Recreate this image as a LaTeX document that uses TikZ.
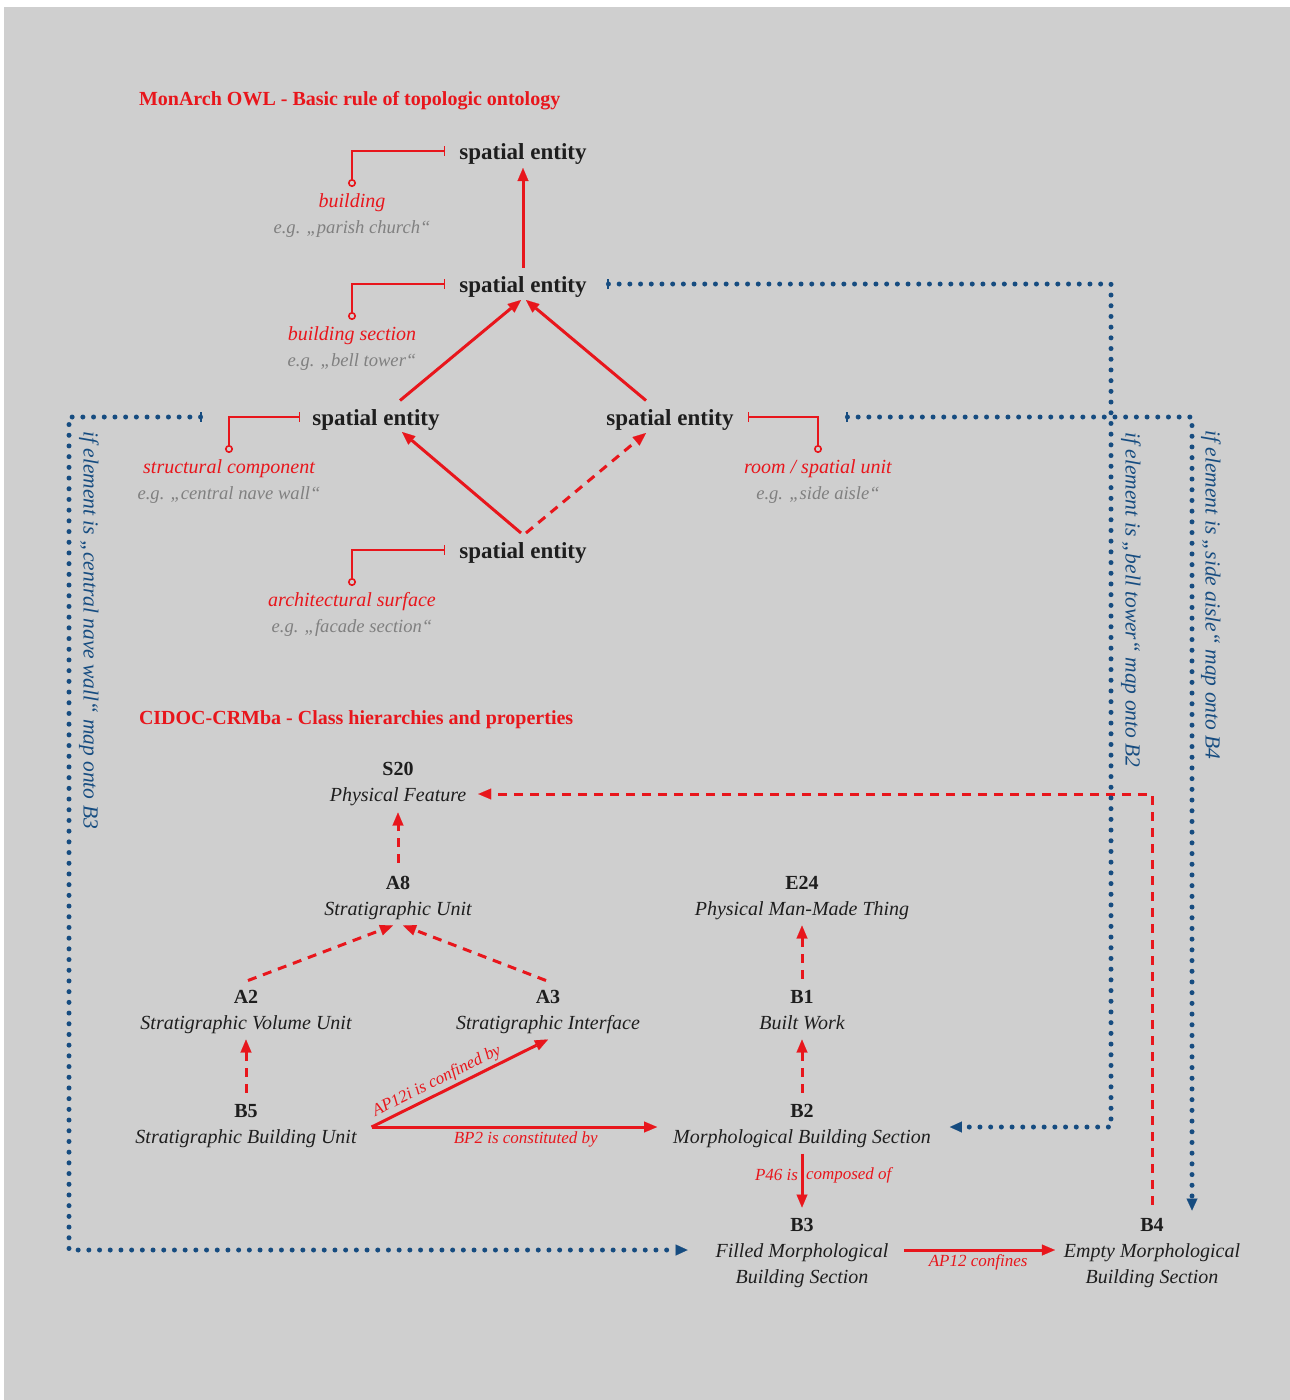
\documentclass[tikz,border=0pt]{standalone}
\usepackage{fontspec}
\setmainfont{Liberation Serif}
\usetikzlibrary{arrows.meta,calc}
\definecolor{bg0}{RGB}{207,207,207}
\definecolor{red0}{RGB}{232,22,28}
\definecolor{ink}{RGB}{30,30,30}
\definecolor{gray0}{RGB}{128,128,128}
\definecolor{blue0}{RGB}{22,76,128}
\begin{document}
\begin{tikzpicture}[x=1pt,y=-1pt,
  every node/.style={inner sep=0pt,outer sep=0pt},
  se/.style={font=\fontsize{23}{28}\selectfont\bfseries,text=ink,text height=19pt,text depth=2pt},
  code/.style={font=\fontsize{20}{24}\selectfont\bfseries,text=ink,text height=17pt,text depth=2pt},
  cname/.style={font=\fontsize{20}{24}\selectfont\itshape,text=ink,text height=17pt,text depth=2pt},
  cname2/.style={font=\fontsize{20}{26}\selectfont\itshape,text=ink,align=center},
  rlab/.style={font=\fontsize{20}{24}\selectfont\itshape,text=red0,text height=17pt,text depth=2pt},
  glab/.style={font=\fontsize{18.6}{24}\selectfont\itshape,text=gray0,text height=17pt,text depth=2pt},
  plab/.style={font=\fontsize{17}{20}\selectfont\itshape,text=red0},
  blab/.style={font=\fontsize{21.5}{24}\selectfont\itshape,text=blue0,rotate=-90},
  ttl/.style={font=\fontsize{20}{24}\selectfont\bfseries,text=red0,anchor=west},
  solidarr/.style={draw=red0,line width=3pt,-{Triangle[length=13pt,width=11pt,line width=0.1pt]}},
  dasharr/.style={solidarr,dash pattern=on 9pt off 7pt},
  bracket/.style={draw=red0,line width=1.6pt},
  dotline/.style={draw=blue0,line width=5pt,line cap=round,dash pattern=on 0pt off 10.7pt,
     {Bar[width=10pt,line width=2.5pt]}-{Triangle[length=12pt,width=11pt,line width=0.1pt]}},
  ]
\useasboundingbox (0,0) rectangle (1290,1400);
\fill[white] (0,0) rectangle (1290,1400);
\fill[bg0] (4,7) rectangle (1290,1400);

% titles
\node[ttl] (t1) at (139,101) {MonArch OWL - Basic rule of topologic ontology};
\node[ttl] (t2) at (139,720) {CIDOC-CRMba - Class hierarchies and properties};

% spatial entities
\node[se] (SE1) at (523,151) {spatial entity};
\node[se] (SE2) at (523,284) {spatial entity};
\node[se] (SE3) at (376,417) {spatial entity};
\node[se] (SE4) at (670,417) {spatial entity};
\node[se] (SE5) at (523,550) {spatial entity};

% labels
\node[rlab] (l1) at (352,200) {building};
\node[glab] (g1) at (352,226) {e.g. „parish church“};
\node[rlab] (l2) at (352,333) {building section};
\node[glab] (g2) at (352,359) {e.g. „bell tower“};
\node[rlab] (l3) at (229,466) {structural component};
\node[glab] (g3) at (229,492) {e.g. „central nave wall“};
\node[rlab] (l4) at (818,466) {room / spatial unit};
\node[glab] (g4) at (818,492) {e.g. „side aisle“};
\node[rlab] (l5) at (352,599) {architectural surface};
\node[glab] (g5) at (352,625) {e.g. „facade section“};

% brackets
\draw[bracket,{Circle[open,length=8pt,width=8pt]}-{Bar[width=10pt]}] ($(l1.north)+(0,-3.5)$) |- ($(SE1.west)+(-14,0)$);
\draw[bracket,{Circle[open,length=8pt,width=8pt]}-{Bar[width=10pt]}] ($(l2.north)+(0,-3.5)$) |- ($(SE2.west)+(-14,0)$);
\draw[bracket,{Circle[open,length=8pt,width=8pt]}-{Bar[width=10pt]}] ($(l3.north)+(0,-3.5)$) |- ($(SE3.west)+(-12,0)$);
\draw[bracket,{Circle[open,length=8pt,width=8pt]}-{Bar[width=10pt]}] ($(l5.north)+(0,-3.5)$) |- ($(SE5.west)+(-14,0)$);
\draw[bracket,{Bar[width=10pt]}-{Circle[open,length=8pt,width=8pt]}] ($(SE4.east)+(14,0)$) -| ($(l4.north)+(0,-3.5)$);

% spatial entity arrows
\draw[solidarr] ($(SE2.north)+(0,-6)$) -- ($(SE1.south)+(0,6.5)$);
\draw[solidarr] ($(SE3.north)+(24,-6)$) -- ($(SE2.south)+(-2,5.5)$);
\draw[solidarr] ($(SE4.north)+(-24,-6)$) -- ($(SE2.south)+(3,5.5)$);
\draw[solidarr] ($(SE5.north)+(-2,-6.5)$) -- ($(SE3.south)+(26,4.5)$);
\draw[dasharr] ($(SE5.north)+(3,-6.5)$) -- ($(SE4.south)+(-24,5.5)$);

% CIDOC classes
\node[code] (S20c) at (398,768) {S20};
\node[cname] (S20n) at (398,794) {Physical Feature};
\node[code] (A8c) at (398,882) {A8};
\node[cname] (A8n) at (398,908) {Stratigraphic Unit};
\node[code] (A2c) at (246,996) {A2};
\node[cname] (A2n) at (246,1022) {Stratigraphic Volume Unit};
\node[code] (A3c) at (548,996) {A3};
\node[cname] (A3n) at (548,1022) {Stratigraphic Interface};
\node[code] (B5c) at (246,1110) {B5};
\node[cname] (B5n) at (246,1136) {Stratigraphic Building Unit};
\node[code] (E24c) at (802,882) {E24};
\node[cname] (E24n) at (802,908) {Physical Man-Made Thing};
\node[code] (B1c) at (802,996) {B1};
\node[cname] (B1n) at (802,1022) {Built Work};
\node[code] (B2c) at (802,1110) {B2};
\node[cname] (B2n) at (802,1136) {Morphological Building Section};
\node[code] (B3c) at (802,1224) {B3};
\node[cname2,anchor=north] (B3n) at (802,1244) {Filled Morphological\\Building Section};
\node[code] (B4c) at (1152,1224) {B4};
\node[cname2,anchor=north] (B4n) at (1152,1244) {Empty Morphological\\Building Section};

% class connectors
\draw[dasharr] ($(A8c.north)+(0,-10)$) -- ($(S20n.south)+(0,9)$);
\draw[dasharr] ($(A2c.north)+(2,-6)$) -- ($(A8n.south)+(-5,8)$);
\draw[dasharr] ($(A3c.north)+(-2,-6)$) -- ($(A8n.south)+(5,8)$);
\draw[dasharr] ($(B5c.north)+(0,-8)$) -- ($(A2n.south)+(0,8)$);
\draw[dasharr] ($(B1c.north)+(0,-8)$) -- ($(E24n.south)+(0,8)$);
\draw[dasharr] ($(B2c.north)+(0,-8)$) -- ($(B1n.south)+(0,8)$);
\draw[solidarr] ($(B5n.east)+(15,-9)$) -- node[plab,sloped,above=4pt,pos=0.4] {AP12i is confined by} ($(A3n.south)+(0,8)$);
\draw[solidarr] ($(B5n.east)+(15,-9)$) -- node[plab,below=5pt,pos=0.54] {BP2 is constituted by} ($(B2n.west)+(-16,-9)$);
\draw[solidarr] ($(B2n.south)+(0,8)$) -- node[plab,left=4pt,pos=0.4] {P46 is} node[plab,right=4pt,pos=0.4] {composed of} ($(B3c.north)+(0,-7)$);
\draw[solidarr] ($(B3n.north east)+(16,6)$) -- node[plab,below=5pt,pos=0.49] {AP12 confines} ($(B4n.north west)+(-9,6)$);
\draw[dasharr] ($(B4c.north)+(0,-10)$) |- ($(S20n.east)+(12,0)$);

% blue mapping lines
\coordinate (bt) at (1111,284);
\coordinate (sa) at (1192,417);
\coordinate (cn) at (69,417);
\coordinate (saend) at (sa |- B4c.north);
\draw[dotline] ($(SE2.east)+(20,0)$) -- (bt) |- ($(B2n.east)+(19,-9)$);
\draw[dotline] ($(SE4.east)+(112,0)$) -- (sa) -- ($(saend)+(0,-4)$);
\draw[dotline] ($(SE3.west)+(-110,0)$) -- (cn) |- ($(B3n.north west)+(-28,6)$);

\node[blab] (m2) at (1131,600) {if element is „bell tower“ map onto B2};
\node[blab] (m4) at (1211,595) {if element is „side aisle“ map onto B4};
\node[blab] (m3) at (89,630) {if element is „central nave wall“ map onto B3};
\end{tikzpicture}
\end{document}
